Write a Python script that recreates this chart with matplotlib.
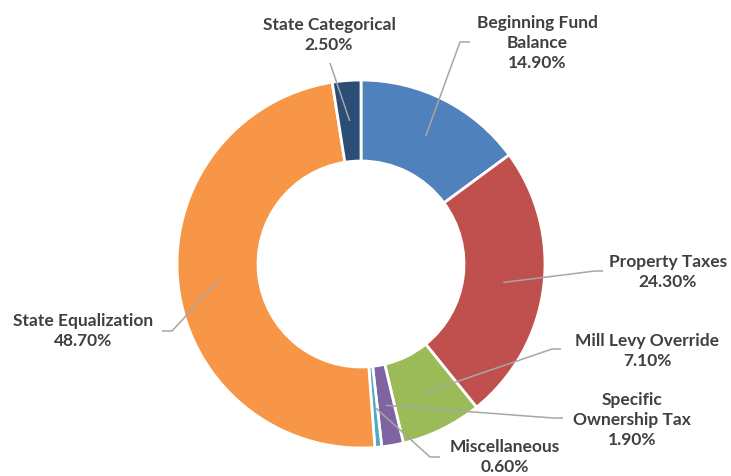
import numpy as np
import matplotlib.pyplot as plt

labels = ['Beginning Fund\nBalance', 'Property Taxes', 'Mill Levy Override',
          'Specific\nOwnership Tax', 'Miscellaneous', 'State Equalization',
          'State Categorical']
shares = [14.9, 24.3, 7.1, 1.9, 0.6, 48.7, 2.5]
colors = ['#4F81BD', '#C0504D', '#9BBB59', '#8064A2', '#4BACC6', '#F79646', '#2C4D75']

# label layout in pixel coords (x center, y center of text block), elbow start/end
label_pos = [(537, 43), (668, 272), (647, 351), (632, 420), (505, 457), (83, 331), (329, 35)]
elbows = [((470, 42), (460, 42)), ((603, 271), (595, 271)), ((561, 349), (552, 349)),
          ((563, 418), (553, 418)), ((440, 457), (430, 457)), ((162, 331), (172, 331)),
          ((330, 63), (330, 63))]

W, H = 731, 476
cx, cy, R, r_in = 361, 264, 184, 103

fig = plt.figure(figsize=(W / 100, H / 100), dpi=100)
ax = fig.add_axes([0, 0, 1, 1])

ax.pie(shares, colors=colors, startangle=90, counterclock=False,
       center=(cx, H - cy), radius=R, frame=True,
       wedgeprops=dict(width=R - r_in, edgecolor='white', linewidth=2))
ax.set_xlim(0, W)
ax.set_ylim(0, H)
ax.axis('off')

cum = np.cumsum([0] + shares[:-1])
rmid = (R + r_in) / 2
for i, (lab, val) in enumerate(zip(labels, shares)):
    ang = np.deg2rad(90 - (cum[i] + val / 2) * 3.6)
    ax_, ay_ = cx + rmid * np.cos(ang), H - cy + rmid * np.sin(ang)
    (ex1, ey1), (ex2, ey2) = elbows[i]
    ax.plot([ax_, ex2, ex1], [ay_, H - ey2, H - ey1], color='#A6A6A6', lw=1.1,
            solid_capstyle='butt')
    lx, ly = label_pos[i]
    ax.text(lx, H - ly, f'{lab}\n{val:.2f}%', ha='center', va='center',
            fontsize=12.5, fontweight='bold', color='#404040', family='Lato',
            linespacing=1.32)

fig.savefig('out.png', dpi=100)
